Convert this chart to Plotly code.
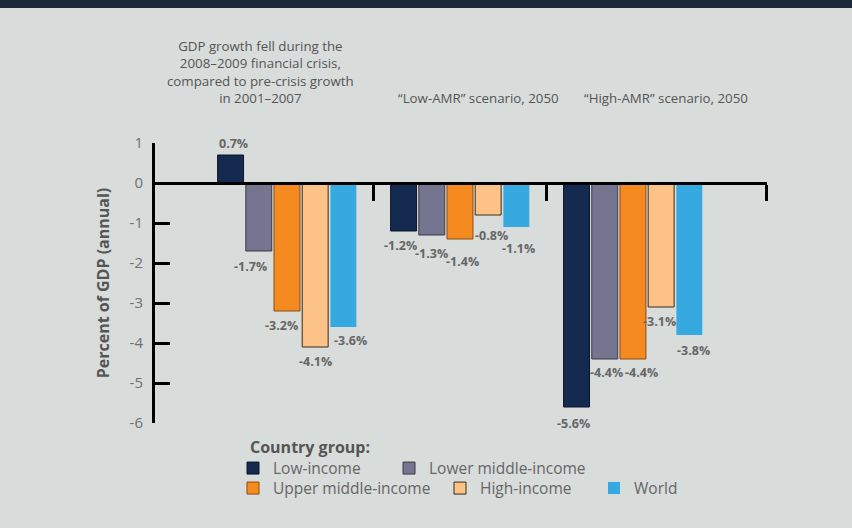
import plotly.graph_objects as go

# ---- data ----
groups = ["2008-2009 crisis", "Low-AMR 2050", "High-AMR 2050"]
series_names = ["Low-income", "Lower middle-income", "Upper middle-income", "High-income", "World"]
low_income = [0.7, -1.2, -5.6]
lower_middle = [-1.7, -1.3, -4.4]
upper_middle = [-3.2, -1.4, -4.4]
high_income = [-4.1, -0.8, -3.1]
world = [-3.6, -1.1, -3.8]
y_ticks = [1, 0, -1, -2, -3, -4, -5, -6]
y_tick_labels = [str(v) for v in y_ticks]

headers = [
    "GDP growth fell during the<br>2008–2009 financial crisis,<br>compared to pre-crisis growth<br>in 2001–2007",
    "“Low-AMR” scenario, 2050",
    "“High-AMR” scenario, 2050",
]

# ---- styles ----
colors = ["#152a50", "#757590", "#f58a20", "#fcc288", "#36a9e0"]
outlines = ["#0d1525", "#3a3a48", "#8a4a10", "#3a2a1a", "rgba(0,0,0,0)"]
values = [low_income, lower_middle, upper_middle, high_income, world]
legend_ids = ["legend", "legend2", "legend3", "legend4", "legend5"]
# value-label nudges in pixels (dx, distance from bar end) per series, per group
label_nudges = [
    [(3, 12), (-3, 14), (-3, 16)],
    [(-8, 15), (0, 18), (2, 13)],
    [(-5, 14), (3, 22), (9, 13)],
    [(0, 14), (3, 20), (-2, 14)],
    [(7, 13), (2, 21), (4, 15)],
]

xpos = list(range(len(groups)))
BARGAP, GROUPGAP = 0.185, 0.08
slot = (1 - BARGAP) / len(series_names)

FONT = "Open Sans"
BG = "#d8dcdb"

fig = go.Figure()
annotations = []
for k, (name, vals, col, oc, lg) in enumerate(zip(series_names, values, colors, outlines, legend_ids)):
    fig.add_trace(go.Bar(
        x=xpos, y=vals, name=name, legend=lg,
        marker=dict(color=col, line=dict(color=oc, width=1)),
        hoverinfo="skip",
    ))
    for g, v in enumerate(vals):
        dx, dd = label_nudges[k][g]
        annotations.append(dict(
            text=f"<b>{v:.1f}%</b>", x=xpos[g] + (k - (len(series_names) - 1) / 2) * slot, y=v,
            xref="x", yref="y", xanchor="center", yanchor="middle", showarrow=False,
            xshift=dx, yshift=dd if v >= 0 else -dd,
            font=dict(family=FONT, size=12.5, color="#666666"),
        ))

L, R, T, B = 155, 85, 143, 105
W, H = 852, 528
pw, ph = W - L - R, H - T - B

def px_x(px):
    return (px - L) / pw

def px_y(py):
    return (H - B - py) / ph

for txt, cx, by in zip(headers, [260, 478, 666], [109, 109, 109]):
    annotations.append(dict(
        text=txt, x=px_x(cx), y=px_y(by), xref="paper", yref="paper",
        xanchor="center", yanchor="bottom", showarrow=False, align="center",
        font=dict(family=FONT, size=13.3, color="#555555"),
    ))
annotations.append(dict(
    text="<b>Country group:</b>", x=px_x(248), y=px_y(447), xref="paper", yref="paper",
    xanchor="left", yanchor="middle", showarrow=False,
    font=dict(family=FONT, size=16, color="#555555"),
))

# legend entry placement (square left edge, row centre) in pixels
legend_spots = [(251, 468), (407, 468), (251, 488), (458, 488), (612, 488)]
legend_layout = {}
for lg, (sx, cy) in zip(legend_ids, legend_spots):
    legend_layout[lg] = dict(
        orientation="h", x=px_x(sx - 18), y=px_y(cy - 16.5), xanchor="left", yanchor="top",
        itemwidth=30, font=dict(family=FONT, size=15.5, color="#666666"),
        bgcolor="rgba(0,0,0,0)")

fig.update_layout(
    width=W, height=H,
    margin=dict(l=L, r=R, t=T, b=B),
    paper_bgcolor=BG, plot_bgcolor=BG,
    barmode="group", bargap=BARGAP, bargroupgap=GROUPGAP,
    showlegend=True,
    xaxis=dict(type="linear", range=[-0.763, 2.775], tickvals=[0.5, 1.5, 2.772],
               showticklabels=False, ticks="outside", ticklen=16, tickwidth=3, tickcolor="black",
               showline=True, linewidth=3, linecolor="black", showgrid=False, zeroline=False,
               anchor="free", position=6 / 7),
    yaxis=dict(range=[-6, 1], tickvals=y_ticks, ticktext=y_tick_labels, ticks="inside",
               ticklen=15, tickwidth=3, ticklabelstandoff=6,
               tickcolor="black", showline=True, linewidth=3, linecolor="black",
               showgrid=False, zeroline=False,
               tickfont=dict(family=FONT, size=15, color="#707070"),
               title=dict(text="<b>Percent of GDP (annual)</b>", standoff=16,
                          font=dict(family=FONT, size=16, color="#555555"))),
    annotations=annotations,
    shapes=[dict(type="rect", xref="paper", yref="paper", x0=-1, x1=2,
                 y0=px_y(8), y1=px_y(-5), fillcolor="#1b2a3b", line=dict(width=0), layer="above")],
    **legend_layout,
)

fig.write_html("out.html", config={"displayModeBar": False},
               post_script="document.body.style.margin='0';")
